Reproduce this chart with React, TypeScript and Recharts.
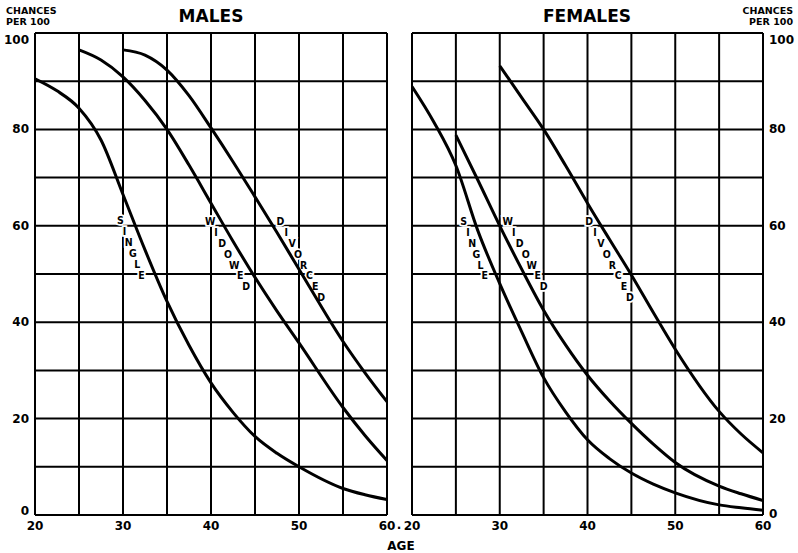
import React from "react";
import { LineChart, Line, XAxis, YAxis, CartesianGrid, ReferenceDot } from "recharts";

const ages = [20, 22.5, 25, 27.5, 30, 32.5, 35, 37.5, 40, 42.5, 45, 47.5, 50, 55, 57.5, 60];

const maleSingle = [90.5, 88, 84.4, 77.8, 66.5, 55, 44.3, 35.2, 27.4, 21.3, 16.3, 12.8, 10, 5.5, 4.2, 3.2];
const maleWidowed = [null, null, 96.5, 94.4, 90.9, 86, 80, 72.6, 64.7, 56.8, 49.3, 42.3, 35.7, 22.3, 16.5, 11.3];
const maleDivorced = [null, null, null, null, 96.5, 95.4, 92.3, 87, 80.3, 73.3, 66, 58.6, 51, 36, 29.5, 23.5];

const femaleSingle = [88.9, 81.5, 72.5, 59, 48, 38, 28.5, 21.4, 15.6, 11.7, 8.7, 6.4, 4.6, 2.1, 1.5, 1];
const femaleWidowed = [null, null, 78.8, 69.5, 60, 51, 42.5, 35.3, 29, 23.7, 19, 14.7, 10.9, 6, 4.4, 3];
const femaleDivorced = [null, null, null, null, 93.2, 86.6, 80, 72.5, 64.7, 57.2, 49.8, 42, 34.4, 21.5, 16.8, 12.9];

const xTicks = [20, 25, 30, 35, 40, 45, 50, 55, 60];
const yTicks = [0, 10, 20, 30, 40, 50, 60, 70, 80, 90, 100];

// curve names written down the curves, letter by letter
const maleLabels = [
  { text: "SINGLE", age: 29.7, value: 61.2 },
  { text: "WIDOWED", age: 39.9, value: 61 },
  { text: "DIVORCED", age: 47.9, value: 61 },
];
const femaleLabels = [
  { text: "SINGLE", age: 25.9, value: 61 },
  { text: "WIDOWED", age: 30.9, value: 61 },
  { text: "DIVORCED", age: 40.2, value: 61 },
];

const maleData = ages.map((age, i) => ({
  age,
  single: maleSingle[i],
  widowed: maleWidowed[i],
  divorced: maleDivorced[i],
}));
const femaleData = ages.map((age, i) => ({
  age,
  single: femaleSingle[i],
  widowed: femaleWidowed[i],
  divorced: femaleDivorced[i],
}));

const FONT = "'DejaVu Sans', sans-serif";
const LETTER_FONT = "'DejaVu Sans Condensed', 'DejaVu Sans', sans-serif";
const slant: Record<string, number> = { SINGLE: 4.2, WIDOWED: 6, DIVORCED: 5.8 };

function LetterStack(props: { cx?: number; cy?: number; text: string }) {
  const { cx = 0, cy = 0, text } = props;
  const dx = slant[text] ?? 5;
  return (
    <g>
      {text.split("").map((ch, i) => (
        <text
          key={i}
          x={cx + i * dx}
          y={cy + i * 10.9}
          textAnchor="middle"
          dominantBaseline="central"
          fontFamily={LETTER_FONT}
          fontWeight="bold"
          fontSize={10.5}
          fill="#000"
          stroke="#fff"
          strokeWidth={3.5}
          paintOrder="stroke"
        >
          {ch}
        </text>
      ))}
    </g>
  );
}

const tickStyle = { fill: "#000", fontSize: 12, fontWeight: "bold" as const, fontFamily: FONT };

// y tick: only every 20, with the end values pulled inside the frame
function YTick(props: any) {
  const { x, y, payload, textAnchor, left } = props;
  const v = payload?.value as number;
  if (v % 20 !== 0) return null;
  const shift = v === 100 ? 7 : v === 0 ? (left ? -4 : -1) : 0;
  return (
    <text
      x={x}
      y={y + shift}
      textAnchor={textAnchor}
      dominantBaseline="central"
      fill="#000"
      fontSize={12}
      fontWeight="bold"
      fontFamily={FONT}
    >
      {v}
    </text>
  );
}

type Row = (typeof maleData)[number];

function Panel({ data, labels, side }: { data: Row[]; labels: typeof maleLabels; side: "left" | "right" }) {
  const left = side === "left";
  const width = left ? 400 : 398;
  const margin = left ? { top: 33, right: 13, left: 5, bottom: 8 } : { top: 33, right: 5, left: 12, bottom: 8 };

  const xAxis = (bare: boolean) => (
    <XAxis
      dataKey="age"
      type="number"
      domain={[20, 60]}
      allowDataOverflow
      ticks={xTicks}
      tickFormatter={(v: number) => (v % 10 === 0 ? String(v) : "")}
      tick={bare ? false : tickStyle}
      tickLine={false}
      tickSize={4}
      axisLine={bare ? false : { stroke: "#000", strokeWidth: 2 }}
      height={30}
      interval={0}
    />
  );
  const yAxis = (bare: boolean) => (
    <YAxis
      orientation={left ? "left" : "right"}
      type="number"
      domain={[0, 100]}
      allowDataOverflow
      ticks={yTicks}
      tick={bare ? false : (p: any) => <YTick {...p} left={left} />}
      tickLine={false}
      tickSize={4}
      axisLine={bare ? false : { stroke: "#000", strokeWidth: 2 }}
      width={30}
      interval={0}
    />
  );

  return (
    <div style={{ position: "relative", width, height: 553 }}>
      {/* grid, axes and curve names */}
      <div style={{ position: "absolute", left: 0, top: 0 }}>
        <LineChart width={width} height={553} data={data} margin={margin}>
          <CartesianGrid stroke="#000" strokeWidth={2} />
          {xAxis(false)}
          {yAxis(false)}
          {labels.map((l) => (
            <ReferenceDot
              key={l.text}
              x={l.age}
              y={l.value}
              r={0}
              ifOverflow="visible"
              shape={(p: { cx?: number; cy?: number }) => <LetterStack cx={p.cx} cy={p.cy} text={l.text} />}
            />
          ))}
        </LineChart>
      </div>
      {/* the curves, drawn on top */}
      <div style={{ position: "absolute", left: 0, top: 0 }}>
        <LineChart width={width} height={553} data={data} margin={margin}>
          {xAxis(true)}
          {yAxis(true)}
          {(["single", "widowed", "divorced"] as const).map((k) => (
            <Line
              key={k}
              type="monotone"
              dataKey={k}
              stroke="#000"
              strokeWidth={3}
              dot={false}
              activeDot={false}
              isAnimationActive={false}
            />
          ))}
        </LineChart>
      </div>
    </div>
  );
}

const textBase: React.CSSProperties = {
  position: "absolute",
  fontFamily: FONT,
  fontWeight: "bold",
  color: "#000",
  lineHeight: 1,
  whiteSpace: "nowrap",
};

export default function App() {
  return (
    <div style={{ position: "absolute", left: 0, top: 0, width: 798, height: 553, background: "#fff" }}>
      <div style={{ position: "absolute", left: 0, top: 0 }}>
        <Panel data={maleData} labels={maleLabels} side="left" />
      </div>
      <div style={{ position: "absolute", left: 400, top: 0 }}>
        <Panel data={femaleData} labels={femaleLabels} side="right" />
      </div>

      <div style={{ ...textBase, left: 6, top: 6, fontSize: 9.5 }}>CHANCES</div>
      <div style={{ ...textBase, left: 6, top: 17, fontSize: 9.5 }}>PER 100</div>
      <div style={{ ...textBase, right: 5, top: 6, fontSize: 9.5, textAlign: "right" }}>CHANCES</div>
      <div style={{ ...textBase, right: 5, top: 17, fontSize: 9.5, textAlign: "right" }}>PER 100</div>
      <div style={{ ...textBase, left: 211, top: 8, fontSize: 17, transform: "translateX(-50%)" }}>MALES</div>
      <div style={{ ...textBase, left: 587, top: 8, fontSize: 17, transform: "translateX(-50%)" }}>FEMALES</div>
      <div style={{ ...textBase, left: 399, top: 522, fontSize: 12, transform: "translateX(-50%)" }}>·</div>
      <div style={{ ...textBase, left: 401, top: 540, fontSize: 12, transform: "translateX(-50%)" }}>AGE</div>
    </div>
  );
}
